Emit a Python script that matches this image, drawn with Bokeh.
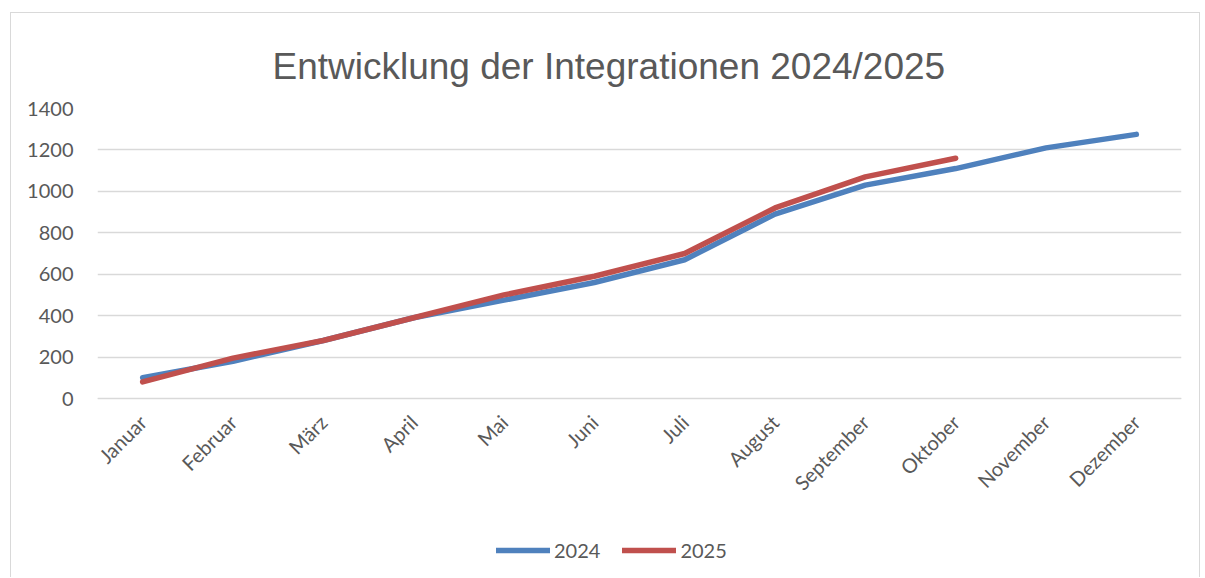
from math import pi
from bokeh.plotting import figure
from bokeh.models import Legend, LegendItem, Range1d, FactorRange, FixedTicker
from bokeh.embed import file_html
from bokeh.resources import INLINE

months = ["Januar", "Februar", "März", "April", "Mai", "Juni", "Juli",
          "August", "September", "Oktober", "November", "Dezember"]
values_2024 = [100, 180, 280, 390, 475, 560, 670, 890, 1030, 1110, 1210, 1275]
values_2025 = [80, 195, 280, 390, 500, 590, 700, 920, 1070, 1160]
y_ticks = [0, 200, 400, 600, 800, 1000, 1200, 1400]

FONT = "Lato"
GREY = "#595959"

# frame spans from the 1400 gridline down to the bottom of the chart;
# the value axis occupies the upper 290 px (0..1400)
Y_MAX = 1400
Y_MIN = -Y_MAX * 180 / 290

p = figure(width=1190, height=565, x_range=FactorRange(*months, range_padding=0),
           y_range=Range1d(Y_MIN, Y_MAX), output_backend="svg", toolbar_location=None,
           title="Entwicklung der Integrationen 2024/2025",
           min_border_left=86, min_border_right=20, min_border_top=95, min_border_bottom=0)
p.styles = {"margin-left": "10px", "margin-top": "12px",
            "border-left": "1px solid #d9d9d9", "border-top": "1px solid #d9d9d9",
            "border-right": "1px solid #d9d9d9"}
p.title.text_font = "Liberation Sans"
p.title.text_font_size = "37px"
p.title.text_font_style = "normal"
p.title.text_color = GREY
p.title.align = "left"
p.title.offset = 175
p.title.standoff = 44

p.outline_line_color = None
p.background_fill_color = "white"
p.border_fill_color = "white"

p.xgrid.grid_line_color = None
p.ygrid.ticker = FixedTicker(ticks=y_ticks)
p.ygrid.grid_line_color = "#d9d9d9"
p.ygrid.grid_line_width = 1.3
p.yaxis.ticker = FixedTicker(ticks=y_ticks)
p.yaxis.axis_line_color = None
p.yaxis.major_tick_line_color = None
p.yaxis.minor_tick_line_color = None
p.yaxis.major_label_text_font = FONT
p.yaxis.major_label_text_font_size = "20px"
p.yaxis.major_label_text_color = GREY
p.yaxis.major_label_standoff = 18

p.xaxis.fixed_location = 0
p.xaxis.axis_line_color = "#d9d9d9"
p.xaxis.major_tick_line_color = None
p.xaxis.minor_tick_line_color = None
p.xaxis.major_label_orientation = pi / 4
p.xaxis.major_label_text_font = FONT
p.xaxis.major_label_text_font_size = "20px"
p.xaxis.major_label_text_color = GREY
p.xaxis.major_label_standoff = 14

r1 = p.line(months, values_2024, line_color="#4f81bd", line_width=5.5, line_cap="round", line_join="round")
r2 = p.line(months[:len(values_2025)], values_2025, line_color="#c0504d", line_width=5.5, line_cap="round", line_join="round")

legend = Legend(items=[LegendItem(label="2024", renderers=[r1]), LegendItem(label="2025", renderers=[r2])],
                orientation="horizontal", location=(399, 16), border_line_color=None,
                background_fill_alpha=0,
                label_text_font=FONT, label_text_font_size="20px", label_text_color=GREY,
                glyph_width=54, spacing=22, label_standoff=4, margin=0, padding=6)
p.add_layout(legend)

open("out.html", "w").write(file_html(p, INLINE))
